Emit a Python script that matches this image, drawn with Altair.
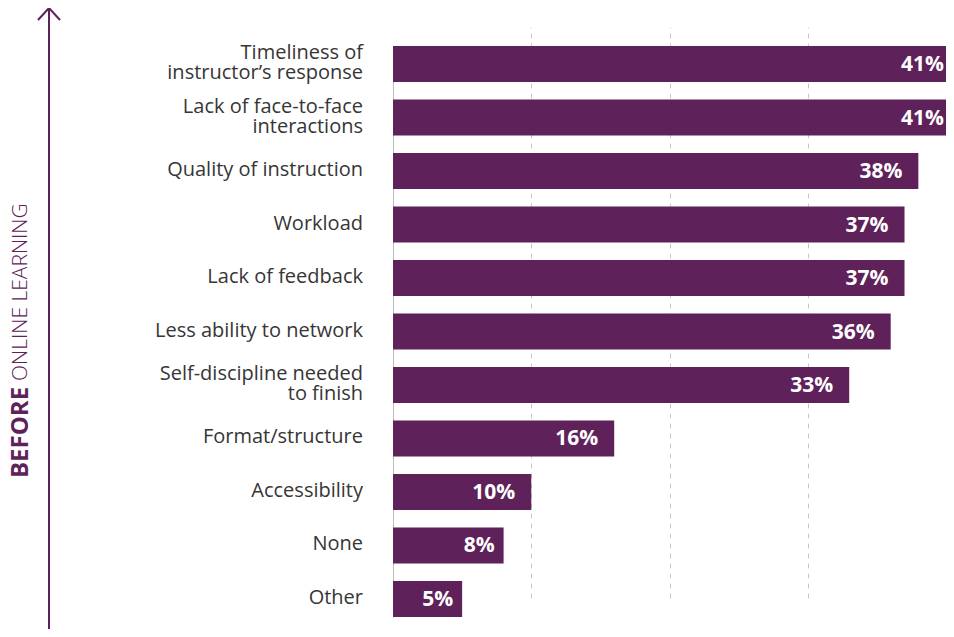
import altair as alt
import pandas as pd

categories = [
    "Timeliness of\ninstructor’s response",
    "Lack of face-to-face\ninteractions",
    "Quality of instruction",
    "Workload",
    "Lack of feedback",
    "Less ability to network",
    "Self-discipline needed\nto finish",
    "Format/structure",
    "Accessibility",
    "None",
    "Other",
]
values = [41, 41, 38, 37, 37, 36, 33, 16, 10, 8, 5]
labels = [f"{v}%" for v in values]
grid_values = [10, 20, 30, 40]

PURPLE = "#5f2159"
FONT = "Open Sans"

df = pd.DataFrame({"cat": categories, "value": values, "label": labels})

y_enc = alt.Y(
    "cat:N",
    sort=categories,
    scale=alt.Scale(range=[31, 602], paddingInner=0.327, paddingOuter=0),
    axis=alt.Axis(labels=False, ticks=False, title=None, grid=False,
                  domain=True, domainColor="#bdbdbd", domainWidth=1),
)
x_enc = alt.X(
    "value:Q",
    scale=alt.Scale(domain=[0, 40]),
    axis=alt.Axis(values=grid_values, grid=True, gridDash=[5, 5], gridColor="#c8c8c8",
                  labels=False, ticks=False, domain=False, title=None),
)
y_plain = alt.Y("cat:N", sort=categories)

base = alt.Chart(df)

bars = base.mark_bar(color=PURPLE, clip=True).encode(x=x_enc, y=y_enc)

val2 = base.transform_filter("datum.value >= 10").mark_text(
    align="right", baseline="middle", dx=-16, dy=1, color="white",
    font=FONT, fontWeight="bold", fontSize=21,
).encode(x=alt.X("value:Q"), y=y_plain, text="label:N")

val1 = base.transform_filter("datum.value < 10").mark_text(
    align="right", baseline="middle", dx=-9, dy=1, color="white",
    font=FONT, fontWeight="bold", fontSize=21,
).encode(x=alt.X("value:Q"), y=y_plain, text="label:N")

cat_one = base.transform_filter("indexof(datum.cat, '\\n') < 0").mark_text(
    align="right", baseline="middle", lineBreak="\n", lineHeight=20,
    font=FONT, fontSize=20, color="#363636", dy=-1,
).encode(x=alt.value(-30), y=y_plain, text="cat:N")

cat_two = base.transform_filter("indexof(datum.cat, '\\n') >= 0").mark_text(
    align="right", baseline="middle", lineBreak="\n", lineHeight=20,
    font=FONT, fontSize=20, color="#363636", dy=-11,
).encode(x=alt.value(-30), y=y_plain, text="cat:N")

one = pd.DataFrame({"a": [0]})

t_before = alt.Chart(pd.DataFrame({"t": ["BEFORE"]})).mark_text(
    angle=270, align="left", baseline="middle", font=FONT, fontWeight="bold",
    fontSize=24, color=PURPLE,
).encode(text="t:N", x=alt.value(-372), y=alt.value(463))

t_online = alt.Chart(pd.DataFrame({"t": ["ONLINE LEARNING"]})).mark_text(
    angle=270, align="left", baseline="middle", font=FONT, fontWeight=300,
    fontSize=21, color=PURPLE,
).encode(text="t:N", x=alt.value(-372), y=alt.value(366))

arrow_line = alt.Chart(one).mark_rule(color=PURPLE, strokeWidth=2).encode(
    x=alt.value(-344), y=alt.value(-7), y2=alt.value(620))
arrow_l = alt.Chart(one).mark_rule(color=PURPLE, strokeWidth=2).encode(
    x=alt.value(-344), y=alt.value(-7), x2=alt.value(-355), y2=alt.value(5))
arrow_r = alt.Chart(one).mark_rule(color=PURPLE, strokeWidth=2).encode(
    x=alt.value(-344), y=alt.value(-7), x2=alt.value(-333), y2=alt.value(5))

chart = alt.layer(
    bars, val2, val1, cat_one, cat_two, t_before, t_online, arrow_line, arrow_l, arrow_r
).properties(
    width=553, height=614,
    autosize=alt.AutoSizeParams(type="none"),
    padding={"left": 385, "top": 7, "right": 0, "bottom": 0},
).configure(font=FONT).configure_view(stroke=None)

chart.save("out.html", embed_options={"renderer": "svg", "actions": False})
